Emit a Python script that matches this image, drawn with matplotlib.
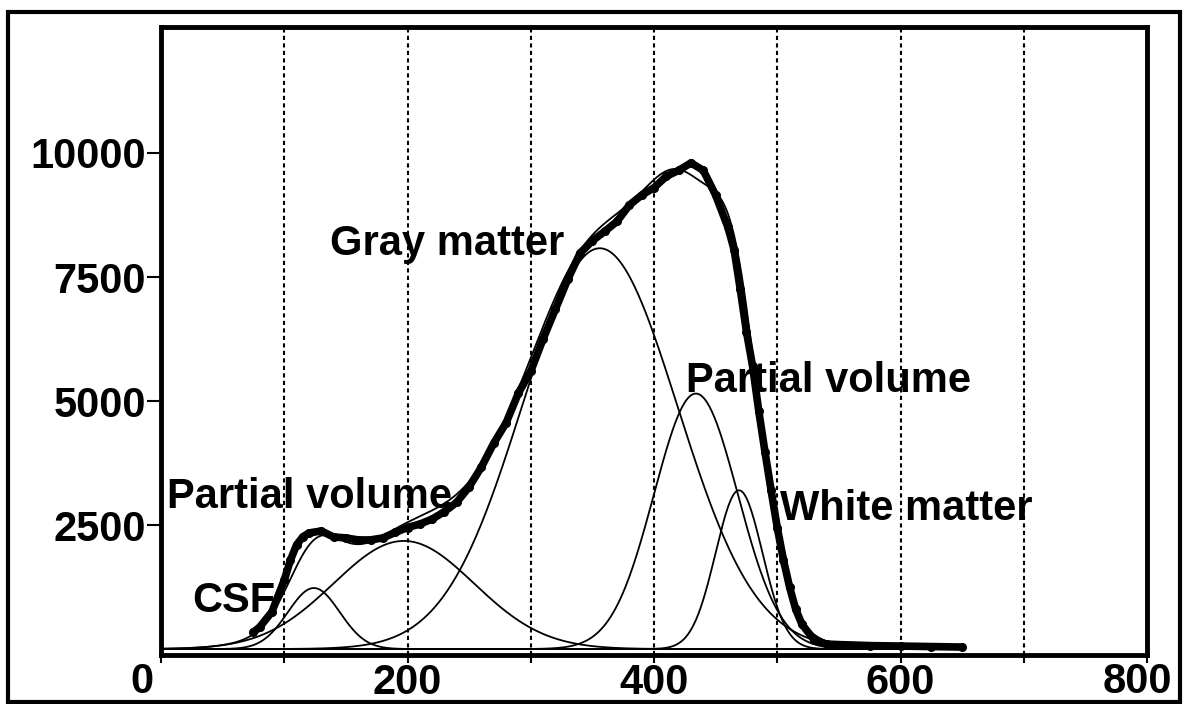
import numpy as np
import matplotlib
matplotlib.use("Agg")
import matplotlib.pyplot as plt
from matplotlib.patches import Rectangle

# ---- data ----
# measured histogram (thick dotted band)
hist_x = [75, 80, 90, 100, 105, 110, 115, 120, 130, 140, 150, 160, 170, 180,
          190, 200, 210, 220, 230, 240, 250, 260, 270, 280, 290, 300, 310,
          320, 330, 340, 350, 360, 370, 380, 390, 400, 410, 420, 430, 440,
          450, 460, 465, 470, 475, 480, 485, 490, 495, 500, 505, 510, 515,
          520, 530, 540, 550, 575, 600, 625, 650]
hist_y = [340, 440, 750, 1390, 1790, 2100, 2260, 2340, 2380, 2260, 2240, 2200,
          2200, 2240, 2350, 2450, 2520, 2620, 2770, 2960, 3270, 3670, 4150,
          4560, 5160, 5600, 6250, 6850, 7450, 7980, 8230, 8420, 8620, 8950,
          9150, 9300, 9530, 9650, 9800, 9650, 9150, 8500, 8050, 7250, 6400,
          5700, 4800, 3980, 3200, 2450, 1800, 1250, 800, 500, 180, 100, 90,
          70, 60, 50, 40]

# fitted Gaussian components: CSF, partial volume, gray matter, partial volume, white matter
comp_mean = [124, 197, 356, 434, 469]
comp_sd = [21, 57, 63, 34, 19]
comp_peak = [1230, 2180, 8080, 5150, 3200]

labels = ["Gray matter", "Partial volume", "White matter", "Partial volume", "CSF"]
label_x = [137, 426, 502, 5, 25]
label_y = [7943, 5181, 2600, 2843, 746]

xtick_vals = [0, 100, 200, 300, 400, 500, 600, 700, 800]
xtick_labels = ["", "", "200", "", "400", "", "600", "", ""]
edge_labels = ["0", "800"]
edge_label_x = [0, 800]
edge_label_shift = [-19, -10]
ytick_vals = [2500, 5000, 7500, 10000]
ytick_labels = ["2500", "5000", "7500", "10000"]
grid_x = [100, 200, 300, 400, 500, 600, 700]

# ---- figure ----
W, H = 1183, 704
fig = plt.figure(figsize=(W / 100, H / 100), dpi=100)
fig.patch.set_facecolor("white")
FONT = "Liberation Sans"

ax = fig.add_axes([161 / W, 1 - 655 / H, 986 / W, (655 - 27) / H])
ax.set_xlim(0, 800)
ax.set_ylim(-120, 12540)

for gx in grid_x:
    ax.axvline(gx, color="black", lw=1.5, linestyle=(0, (2, 1.6)), zorder=1)

xs = np.linspace(0, 650, 651)
total = np.zeros_like(xs)
for m, s, p in zip(comp_mean, comp_sd, comp_peak):
    comp = p * np.exp(-0.5 * ((xs - m) / s) ** 2)
    total += comp
    ax.plot(xs, comp, color="black", lw=1.3, zorder=2)
ax.plot(xs, total, color="black", lw=1.3, zorder=2)

ax.plot(hist_x, hist_y, color="black", lw=5.5, marker="o", ms=5.5,
        solid_capstyle="round", solid_joinstyle="round", zorder=3)

for t, x, y in zip(labels, label_x, label_y):
    ax.text(x, y, t, fontsize=30, fontweight="bold", family=FONT,
            ha="left", va="baseline", color="black", zorder=4)

ax.set_xticks(xtick_vals)
ax.set_xticklabels(xtick_labels)
ax.set_yticks(ytick_vals)
ax.set_yticklabels(ytick_labels)
ax.tick_params(axis="x", direction="out", length=6, width=1.5, pad=0,
               labelsize=30, colors="black")
ax.tick_params(axis="y", direction="out", length=10, width=1.5, pad=1,
               labelsize=30, colors="black")
for lab in ax.get_xticklabels() + ax.get_yticklabels():
    lab.set_fontfamily(FONT)
    lab.set_fontweight("bold")

for t, x, dx in zip(edge_labels, edge_label_x, edge_label_shift):
    ax.annotate(t, xy=(x, 0), xycoords=("data", "axes fraction"),
                xytext=(dx, -7), textcoords="offset pixels",
                ha="center", va="top", fontsize=30, fontweight="bold",
                family=FONT, annotation_clip=False)

for sp in ax.spines.values():
    sp.set_linewidth(3.5)
    sp.set_color("black")

# outer frame
fig.add_artist(Rectangle((8 / W, 1 - 702 / H), (1180 - 8) / W, (702 - 12) / H,
                         transform=fig.transFigure, fill=False,
                         edgecolor="black", lw=3))

fig.savefig("out.png", dpi=100, facecolor="white")
